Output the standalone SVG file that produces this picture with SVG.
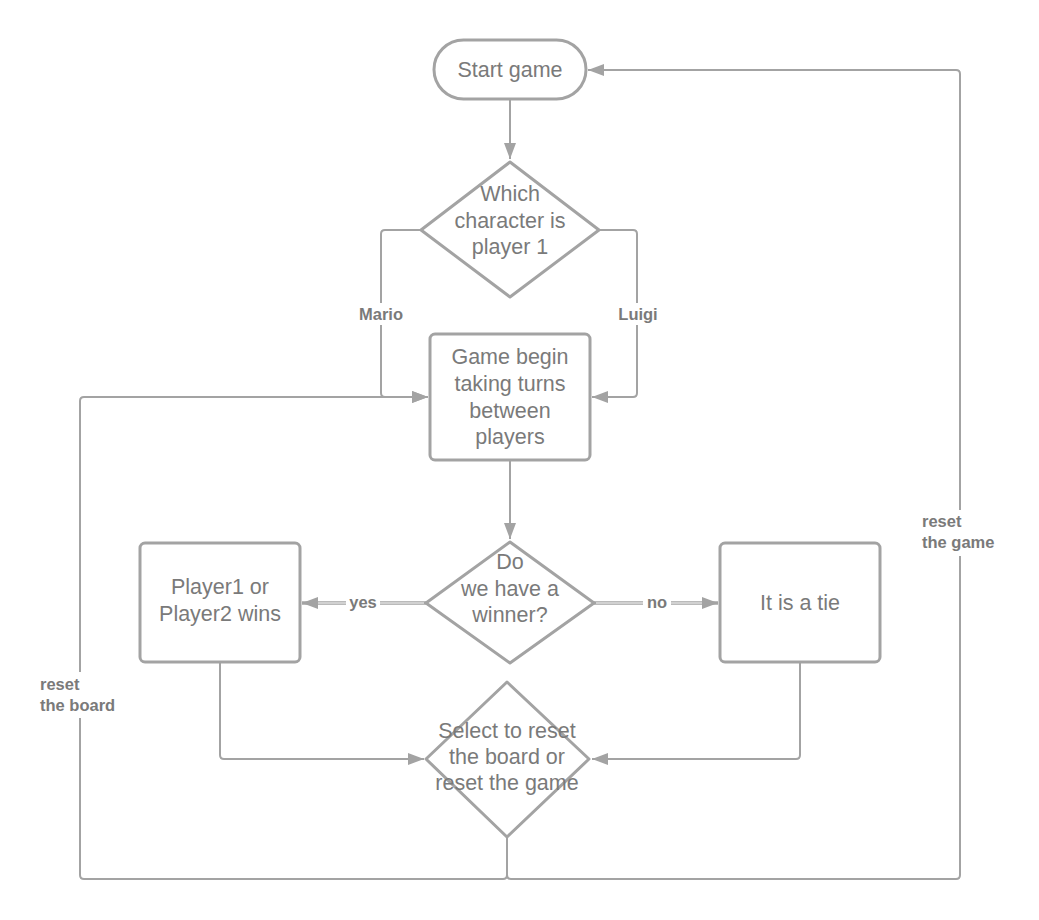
<svg xmlns="http://www.w3.org/2000/svg" width="1039" height="920" viewBox="0 0 1039 920">
<style>
.node{fill:#fff;stroke:#a3a3a3;stroke-width:3;}
.t{font-family:"Liberation Sans",Arial,sans-serif;font-size:21.5px;fill:#7a7a7a;text-anchor:middle;}
.lbl{font-family:"Liberation Sans",Arial,sans-serif;font-size:16.5px;font-weight:bold;fill:#7a7a7a;}
.c{fill:none;stroke:#a3a3a3;stroke-width:2;stroke-linejoin:round;}
.dbl{fill:none;stroke:#fff;stroke-width:1.2;}
</style>
<defs>
<marker id="ah" markerUnits="userSpaceOnUse" markerWidth="16" markerHeight="12" refX="16" refY="6" orient="auto">
<path d="M0,0 L16,6 L0,12 z" fill="#a3a3a3"/>
</marker>
</defs>
<rect width="1039" height="920" fill="#fff"/>
<g id="connectors">
<path class="c" d="M510,100 V159" marker-end="url(#ah)"/>
<path class="c" d="M421,230 H385 Q381,230 381,234 V393 Q381,397 385,397 H428" marker-end="url(#ah)"/>
<path class="c" d="M599,230 H633 Q637,230 637,234 V393 Q637,397 633,397 H592" marker-end="url(#ah)"/>
<path class="c" d="M510,461 V539" marker-end="url(#ah)"/>
<path class="c" d="M426,603 H302" style="stroke-width:3.5" marker-end="url(#ah)"/>
<path class="dbl" d="M424,603 H318"/>
<path class="c" d="M594,603 H718" style="stroke-width:3.5" marker-end="url(#ah)"/>
<path class="dbl" d="M596,603 H702"/>
<path class="c" d="M220,663 V755 Q220,759 224,759 H424" marker-end="url(#ah)"/>
<path class="c" d="M800,663 V755 Q800,759 796,759 H592" marker-end="url(#ah)"/>
<path class="c" d="M507,838 V875 Q507,879 503,879 H84 Q80,879 80,875 V401 Q80,397 84,397 H428" marker-end="url(#ah)"/>
<path class="c" d="M507,875 Q507,879 511,879 H956 Q960,879 960,875 V74 Q960,70 956,70 H588" marker-end="url(#ah)"/>
<rect x="355" y="303" width="52" height="22" fill="#fff"/>
<text class="lbl" x="381" y="320" text-anchor="middle">Mario</text>
<rect x="614" y="303" width="48" height="22" fill="#fff"/>
<text class="lbl" x="638" y="320" text-anchor="middle">Luigi</text>
<rect x="346" y="593" width="34" height="20" fill="#fff"/>
<text class="lbl" x="363" y="608" text-anchor="middle">yes</text>
<rect x="643" y="593" width="28" height="20" fill="#fff"/>
<text class="lbl" x="657" y="608" text-anchor="middle">no</text>
<rect x="38" y="672" width="96" height="46" fill="#fff"/>
<text class="lbl" x="40" y="690">reset</text>
<text class="lbl" x="40" y="711">the board</text>
<rect x="920" y="510" width="82" height="46" fill="#fff"/>
<text class="lbl" x="922" y="527">reset</text>
<text class="lbl" x="922" y="548">the game</text>
</g>
<g id="start">
<rect class="node" x="434" y="40" width="152" height="59" rx="29.5"/>
<text class="t" x="510" y="77">Start game</text>
</g>
<g id="choose">
<path class="node" d="M510,162 L599,230 L510,297 L421,230 Z" stroke-linejoin="round"/>
<text class="t" x="510" y="201">Which</text>
<text class="t" x="510" y="228">character is</text>
<text class="t" x="510" y="254">player 1</text>
</g>
<g id="game">
<rect class="node" x="430" y="334" width="160" height="126" rx="5"/>
<text class="t" x="510" y="364">Game begin</text>
<text class="t" x="510" y="391">taking turns</text>
<text class="t" x="510" y="418">between</text>
<text class="t" x="510" y="444">players</text>
</g>
<g id="winner">
<path class="node" d="M510,542 L594,603 L510,663 L426,603 Z" stroke-linejoin="round"/>
<text class="t" x="510" y="569">Do</text>
<text class="t" x="510" y="596">we have a</text>
<text class="t" x="510" y="622">winner?</text>
</g>
<g id="wins">
<rect class="node" x="140" y="543" width="160" height="119" rx="5"/>
<text class="t" x="220" y="594">Player1 or</text>
<text class="t" x="220" y="621">Player2 wins</text>
</g>
<g id="tie">
<rect class="node" x="720" y="543" width="160" height="119" rx="5"/>
<text class="t" x="800" y="610">It is a tie</text>
</g>
<g id="reset">
<path class="node" d="M507,682 L589,759 L507,837 L426,759 Z" stroke-linejoin="round"/>
<text class="t" x="507" y="738">Select to reset</text>
<text class="t" x="507" y="764">the board or</text>
<text class="t" x="507" y="790">reset the game</text>
</g>
</svg>
